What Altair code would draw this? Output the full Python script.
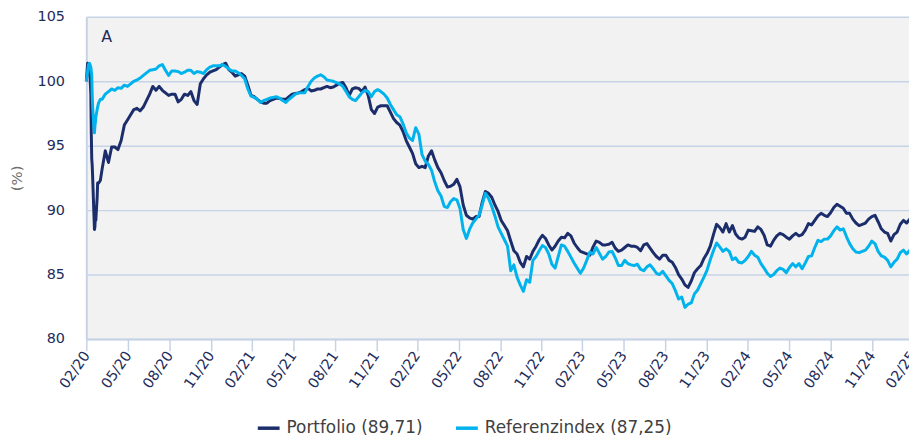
import altair as alt
import pandas as pd

# ---- data ----
SERIES = ["Portfolio (89,71)", "Referenzindex (87,25)"]
COLORS = ["#1b2d6b", "#00b3ec"]

# daily detail for the March 2020 crash
EARLY_DATES = ["2020-02-28", "2020-03-02", "2020-03-04", "2020-03-06", "2020-03-09",
               "2020-03-10", "2020-03-11", "2020-03-12", "2020-03-13", "2020-03-16",
               "2020-03-17", "2020-03-18", "2020-03-19", "2020-03-20", "2020-03-23",
               "2020-03-24", "2020-03-26", "2020-03-30"]
EARLY_PORTFOLIO = [100.0, 101.4, 101.2, 101.3, 99.0, 96.0, 94.0, 93.5, 92.6, 89.5,
                   88.5, 88.7, 89.5, 89.2, 91.0, 92.1, 92.1, 92.3]
EARLY_REFERENZ = [100.0, 100.8, 101.3, 101.4, 101.1, 100.8, 100.5, 99.0, 98.0, 96.3,
                  96.0, 96.5, 96.8, 97.2, 97.8, 98.0, 98.3, 98.6]

# weekly readings from 2020-04-03 to 2025-02-28
WEEKLY_START = "2020-04-03"
WEEKLY_PORTFOLIO = [
    93.2, 94.6, 93.7, 94.9, 94.9, 94.7, 95.4, 96.6, 97.0, 97.4,
    97.8, 97.9, 97.7, 98.0, 98.5, 99.0, 99.6, 99.3, 99.6, 99.3,
    99.1, 98.9, 99.0, 99.0, 98.4, 98.6, 99.0, 98.9, 99.2, 98.5,
    98.2, 99.8, 100.2, 100.5, 100.7, 100.8, 100.9, 101.1, 101.3, 101.4,
    100.9, 100.7, 100.4, 100.5, 100.6, 100.4, 99.7, 98.9, 98.8, 98.6,
    98.4, 98.3, 98.3, 98.5, 98.6, 98.7, 98.65, 98.6, 98.6, 98.8,
    99.0, 99.05, 99.1, 99.2, 99.35, 99.45, 99.25, 99.3, 99.4, 99.4,
    99.5, 99.6, 99.5, 99.55, 99.7, 99.85, 99.9, 99.5, 98.9, 99.4,
    99.5, 99.45, 99.2, 99.55, 98.9, 97.8, 97.5, 98.0, 98.1, 98.1,
    98.1, 97.6, 97.1, 96.8, 96.6, 96.1, 95.4, 94.9, 94.4, 93.6,
    93.3, 93.4, 93.3, 94.2, 94.6, 93.9, 93.3, 92.9, 92.3, 91.8,
    91.85, 92.0, 92.4, 91.8, 90.4, 89.6, 89.4, 89.3, 89.5, 89.5,
    90.6, 91.45, 91.3, 91.0, 90.4, 89.9, 89.2, 88.8, 88.4, 87.6,
    86.85, 86.6, 85.95, 85.6, 86.4, 86.2, 86.8, 87.2, 87.7, 88.05,
    87.8, 87.3, 86.9, 87.2, 87.6, 87.9, 87.85, 88.2, 88.0, 87.45,
    87.1, 86.8, 86.7, 86.6, 86.5, 87.15, 87.6, 87.5, 87.3, 87.3,
    87.35, 87.5, 87.05, 86.8, 86.9, 87.1, 87.3, 87.2, 87.2, 87.1,
    86.85, 87.3, 87.4, 87.05, 86.7, 86.4, 86.2, 86.5, 86.5, 86.1,
    85.95, 85.55, 85.0, 84.65, 84.2, 84.0, 84.5, 85.15, 85.45, 85.7,
    86.25, 86.65, 87.2, 88.1, 88.9, 88.65, 88.3, 88.95, 88.3, 88.8,
    88.15, 87.85, 87.75, 87.9, 88.45, 88.4, 88.35, 88.7, 88.5, 88.05,
    87.3, 87.2, 87.65, 88.0, 88.2, 88.1, 87.9, 87.75, 88.0, 88.2,
    88.0, 88.1, 88.45, 88.95, 88.85, 89.2, 89.55, 89.75, 89.6, 89.5,
    89.8, 90.2, 90.45, 90.3, 90.15, 89.75, 89.75, 89.3, 89.0, 88.8,
    88.9, 89.0, 89.3, 89.5, 89.6, 89.1, 88.55, 88.3, 88.2, 87.6,
    88.1, 88.3, 88.9, 89.2, 89.0, 89.3, 89.71]
WEEKLY_REFERENZ = [
    98.6, 99.0, 99.2, 99.4, 99.3, 99.5, 99.45, 99.7, 99.6, 99.8,
    100.0, 100.1, 100.25, 100.45, 100.65, 100.85, 100.9, 100.95, 101.2, 101.3,
    100.85, 100.45, 100.8, 100.8, 100.75, 100.6, 100.7, 100.85, 100.85, 100.6,
    100.75, 100.7, 100.6, 100.9, 101.1, 101.2, 101.2, 101.2, 101.3, 101.15,
    100.95, 100.8, 100.8, 100.65, 100.45, 100.2, 99.4, 98.85, 98.75, 98.6,
    98.35, 98.5, 98.6, 98.7, 98.75, 98.8, 98.7, 98.5, 98.35, 98.6,
    98.8, 99.0, 99.1, 99.1, 99.1, 99.6, 100.0, 100.25, 100.4, 100.5,
    100.35, 100.1, 100.05, 100.0, 99.9, 99.8, 99.6, 99.2, 98.8, 98.6,
    98.5, 98.8, 99.1, 99.3, 99.2, 98.8, 99.2, 99.35, 99.2, 99.0,
    98.7, 98.2, 97.8, 97.4, 97.25, 96.7, 96.0, 95.6, 95.4, 96.4,
    95.9, 94.3, 93.8, 93.55, 93.1, 92.2, 91.5, 91.1, 90.3, 90.2,
    90.65, 90.9, 90.8, 90.1, 88.5, 87.8, 88.5, 89.0, 89.3, 89.6,
    90.4, 91.3, 90.9, 90.3, 89.55, 88.7, 88.2, 87.7, 87.2, 85.3,
    85.75, 84.8, 84.2, 83.7, 84.6, 84.4, 86.1, 86.4, 86.85, 87.25,
    87.1, 86.6, 85.8, 85.5, 86.4, 87.3, 87.2, 86.8, 86.35, 85.9,
    85.5, 85.1, 85.5, 86.1, 86.75, 86.6, 87.1, 86.65, 86.2, 86.4,
    86.75, 86.8, 86.3, 85.7, 85.7, 86.1, 85.85, 85.75, 85.7, 85.8,
    85.4, 85.3, 85.6, 85.75, 85.45, 85.1, 85.0, 85.25, 84.9, 84.55,
    84.3, 83.75, 83.1, 83.25, 82.45, 82.7, 82.8, 83.5, 83.8, 84.3,
    84.8, 85.35, 86.15, 86.85, 87.45, 87.15, 86.8, 87.0, 86.8, 86.15,
    86.3, 85.95, 85.9, 86.1, 86.4, 86.8, 86.5, 86.35, 85.85, 85.5,
    85.1, 84.85, 85.0, 85.3, 85.5, 85.4, 85.15, 85.55, 85.85, 85.6,
    85.85, 85.45, 85.9, 86.4, 86.45, 87.1, 87.65, 87.55, 87.75, 87.75,
    88.0, 88.4, 88.7, 88.45, 88.55, 87.95, 87.4, 87.0, 86.75, 86.7,
    86.8, 86.9, 87.2, 87.6, 87.4, 86.8, 86.45, 86.35, 86.1, 85.6,
    85.95, 86.2, 86.7, 86.9, 86.6, 86.9, 87.25]

TICK_DATES = ["2020-02-29", "2020-05-31", "2020-08-31", "2020-11-30", "2021-02-28",
              "2021-05-31", "2021-08-31", "2021-11-30", "2022-02-28", "2022-05-31",
              "2022-08-31", "2022-11-30", "2023-02-28", "2023-05-31", "2023-08-31",
              "2023-11-30", "2024-02-29", "2024-05-31", "2024-08-31", "2024-11-30",
              "2025-02-28"]
Y_TICKS = [80, 85, 90, 95, 100, 105]
PANEL_LABEL = "A"

# ---- build table ----
dates = pd.to_datetime(EARLY_DATES).append(
    pd.date_range(WEEKLY_START, periods=len(WEEKLY_PORTFOLIO), freq="7D"))
port = EARLY_PORTFOLIO + WEEKLY_PORTFOLIO
ref = EARLY_REFERENZ + WEEKLY_REFERENZ
df = pd.concat([
    pd.DataFrame({"date": dates, "value": port, "series": SERIES[0]}),
    pd.DataFrame({"date": dates, "value": ref, "series": SERIES[1]}),
], ignore_index=True)


def dt(s):
    return alt.DateTime(year=int(s[:4]), month=int(s[5:7]), date=int(s[8:10]))


FONT = "DejaVu Sans"
NAVY = "#1e2c5c"
GRID = "#c6d3e6"

# the reference's time axis runs a little past the right edge of the picture
PLOT_W = 830
AXIS_W = 834

lines = alt.Chart(df).mark_line(strokeWidth=3, strokeJoin="round").encode(
    x=alt.X("date:T",
            scale=alt.Scale(domain=[dt("2020-02-28"), dt("2025-02-28")],
                            range=[0, AXIS_W]),
            axis=alt.Axis(values=[dt(s) for s in TICK_DATES], format="%m/%y",
                          labelAngle=-55, labelFontSize=14.5, labelColor=NAVY,
                          labelFont=FONT, tickSize=12, tickColor=GRID, tickWidth=1.5,
                          labelPadding=2, grid=False, domainColor=GRID,
                          domainWidth=2, labelOverlap=False, labelFlush=False),
            title=None),
    y=alt.Y("value:Q",
            scale=alt.Scale(domain=[80, 105], nice=False, zero=False),
            axis=alt.Axis(values=Y_TICKS, labelFontSize=14.5, labelColor=NAVY,
                          labelFont=FONT, tickSize=0, labelPadding=22,
                          grid=True, gridColor=GRID, gridWidth=1.5,
                          domainColor=GRID, domainWidth=2,
                          title="(%)", titleFont=FONT, titleFontSize=15,
                          titleFontWeight="normal", titleColor="#707070",
                          titlePadding=13),
            title="(%)"),
    color=alt.Color("series:N",
                    scale=alt.Scale(domain=SERIES, range=COLORS),
                    legend=alt.Legend(title=None, orient="none", direction="horizontal",
                                      legendX=171, legendY=402,
                                      symbolType="stroke", symbolStrokeWidth=3.5,
                                      symbolSize=484, labelFontSize=17,
                                      labelFont=FONT, labelColor="#404040",
                                      labelOffset=5, columnPadding=26,
                                      labelLimit=400)),
)

label = alt.Chart(pd.DataFrame({"t": [PANEL_LABEL]})).mark_text(
    align="left", baseline="middle", fontSize=16, font=FONT, color=NAVY
).encode(x=alt.value(15), y=alt.value(20), text="t:N")

chart = alt.layer(lines, label).properties(
    width=PLOT_W, height=325,
    padding={"left": 79, "top": 7, "right": 0, "bottom": 100},
    autosize=alt.AutoSizeParams(type="none"),
).configure_view(fill="#f2f2f2", stroke="transparent")

chart.save("out.html", embed_options={"renderer": "svg", "actions": False})
